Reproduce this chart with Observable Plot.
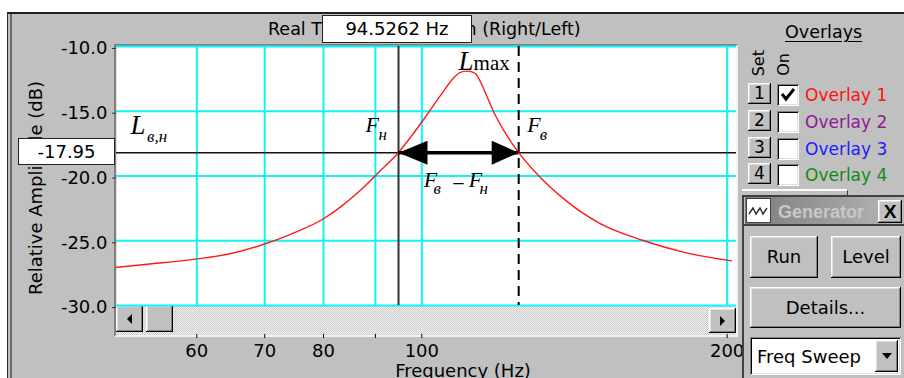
<!DOCTYPE html>
<html><head><meta charset="utf-8">
<script src="https://cdn.jsdelivr.net/npm/d3@7"></script>
<script src="https://cdn.jsdelivr.net/npm/@observablehq/plot@0.6"></script>
<style>
html,body{margin:0;padding:0;background:#fff;}
#root{position:relative;width:904px;height:378px;overflow:hidden;font-family:"DejaVu Sans",sans-serif;color:#000;}
.abs{position:absolute;box-sizing:border-box;}
.t{line-height:1;white-space:nowrap;}
.raised{background:#c0c0c0;box-shadow:inset -1px -1px #000,inset 1px 1px #fff,inset -2px -2px #808080,inset 2px 2px #dfdfdf;}
.sunken{background:#fff;box-shadow:inset 1px 1px #808080,inset -1px -1px #fff,inset 2px 2px #000,inset -2px -2px #dfdfdf;}
.center{display:flex;align-items:center;justify-content:center;}
#chart{left:0;top:0;width:904px;height:378px;}
</style></head>
<body>
<div id="root">
  <!-- window background -->
  <div class="abs" style="left:7px;top:12px;width:897px;height:366px;background:#c0c0c0;border-left:1px solid #303030;border-top:2px solid #202020;"></div>
  <div class="abs" style="left:10px;top:14px;width:2px;height:364px;background:#6a6a6a"></div>
  <!-- sunken plot frame -->
  <div class="abs" style="left:114px;top:44px;width:624px;height:293px;border-top:2px solid #808080;border-left:2px solid #808080;border-right:2px solid #f0f0f0;border-bottom:2px solid #f0f0f0;"></div>
  <!-- scrollbar -->
  <div class="abs" style="left:116px;top:305px;width:620px;height:30px;background:repeating-conic-gradient(#c8c8c8 0 25%,#f4f4f4 0 50%) 0 0/2px 2px;"></div>
  <div class="abs raised center" style="left:116px;top:305px;width:27px;height:27px;"><div style="width:0;height:0;border-top:5px solid transparent;border-bottom:5px solid transparent;border-right:5px solid #000;"></div></div>
  <div class="abs raised" style="left:146px;top:305px;width:27px;height:27px;"></div>
  <div class="abs raised center" style="left:709px;top:308px;width:27px;height:25px;"><div style="width:0;height:0;border-top:5px solid transparent;border-bottom:5px solid transparent;border-left:5px solid #000;"></div></div>

  <div id="chart" class="abs"></div>

  <!-- title -->
  <div class="abs t" style="left:268px;top:21px;font-size:17.5px;">Real T<span style="display:inline-block;width:143.5px;overflow:hidden;vertical-align:bottom;line-height:1">ime Transfer Functio</span>n (Right/Left)</div>
  <div class="abs center t" id="freqBox" style="left:322px;top:15px;width:150px;height:28px;background:#fff;border:1px solid #202020;font-size:18px;"></div>
  <div class="abs center t" id="levelBox" style="left:18px;top:138px;width:97px;height:27px;background:#fff;border:1px solid #202020;font-size:18px;"></div>

  <!-- overlays panel -->
  <div class="abs t" style="left:785px;top:24px;font-size:17.5px;text-decoration:underline;text-underline-offset:3px;">Overlays</div>
  <div class="abs t" style="left:751px;top:50px;writing-mode:vertical-rl;transform:rotate(180deg);font-size:16px;">Set</div>
  <div class="abs t" style="left:776px;top:53px;writing-mode:vertical-rl;transform:rotate(180deg);font-size:16px;">On</div>
  <div id="overlayRows"></div>

  <!-- hidden control behind generator -->
  <div class="abs" style="left:742px;top:189px;width:106px;height:8px;background:#c0c0c0;border-top:2px solid #fff;border-right:1px solid #404040;"></div>

  <!-- generator window -->
  <div class="abs" style="left:742px;top:195px;width:170px;height:190px;background:#c0c0c0;border-left:2px solid #404040;border-top:2px solid #404040;"></div>
  <div class="abs" style="left:745px;top:197px;width:160px;height:27px;background:linear-gradient(to right,#7c7c7c,#b8b8b8);"></div>
  <div class="abs" style="left:746px;top:198px;width:25px;height:25px;background:#fff;border:1px solid #404040;">
    <svg width="23" height="23" style="display:block"><polyline points="2,15 6,9 9,15 13,9 16,15 20,9" fill="none" stroke="#303030" stroke-width="1.4"/></svg>
  </div>
  <div class="abs t" style="left:778px;top:203px;font-family:'Liberation Sans',Arial,sans-serif;font-weight:bold;font-size:18px;color:#c8c8c8;">Generator</div>
  <div class="abs raised center t" style="left:878px;top:200px;width:24px;height:23px;font-family:'Liberation Sans',Arial,sans-serif;font-weight:bold;font-size:19px;">X</div>
  <div class="abs" style="left:744px;top:224px;width:160px;height:2px;background:#404040;"></div>
  <div class="abs raised center t" style="left:750px;top:236px;width:68px;height:42px;font-size:18px;">Run</div>
  <div class="abs raised center t" style="left:831px;top:236px;width:70px;height:42px;font-size:18px;">Level</div>
  <div class="abs raised center t" style="left:750px;top:287px;width:151px;height:41px;font-size:18px;">Details...</div>
  <div class="abs sunken" style="left:750px;top:337px;width:151px;height:38px;"></div>
  <div class="abs t" style="left:757px;top:348px;font-size:18px;">Freq Sweep</div>
  <div class="abs raised center" style="left:875px;top:340px;width:23px;height:32px;"><div style="width:0;height:0;border-left:5px solid transparent;border-right:5px solid transparent;border-top:6px solid #000;"></div></div>
</div>

<script>
// ---- data ----
const freqHz  = [50, 53.9, 60, 64.7, 70, 74.2, 80, 83.1, 87, 91, 94.8, 97.5, 100.5, 104.3, 107.6, 109.0, 110.7, 112.2, 113.0, 114.3, 116.0, 117.8, 120.5, 124.6, 129, 139.2, 150.1, 165.6, 181.5, 202];
const levelDb = [-27.05, -26.8, -26.4, -26.0, -25.25, -24.5, -23.3, -22.4, -21.1, -19.6, -18.2, -17.0, -15.6, -13.8, -12.4, -12.02, -11.9, -11.98, -12.1, -12.76, -13.9, -15.1, -16.5, -18.2, -19.6, -22.0, -23.7, -25.0, -25.9, -26.55];
const xTicks = [60, 70, 80, 90, 100, 200];
const xTickLabels = ["60", "70", "80", "", "100", "200"];
const yTicks = [-10, -15, -20, -25, -30];
const yTickLabels = ["-10.0", "-15.0", "-20.0", "-25.0", "-30.0"];
const xDomain = [50, 204.3];
const yDomain = [-30, -10];
const cursorLowHz = 94.85;
const cursorHighHz = 124.6;
const cursorLevelDb = -18.2;
const freqReadout = "94.5262 Hz";
const levelReadout = "-17.95";
const xLabel = "Frequency (Hz)";
const yLabel = "Relative Amplitude (dB)";
const overlayNames = ["Overlay 1", "Overlay 2", "Overlay 3", "Overlay 4"];
const overlayOn = [true, false, false, false];

// ---- styles ----
const overlayColors = ["#ff1010", "#8e1a94", "#1c1cff", "#138a13"];
const serif = "'Liberation Serif','Times New Roman',serif";

const curve = freqHz.map((f, i) => ({f, db: levelDb[i]}));
const iPeak = d3.maxIndex(levelDb);
const peakPt = [{x: freqHz[iPeak], y: levelDb[iPeak]}];
const lowPt = [{x: cursorLowHz, y: cursorLevelDb}];
const highPt = [{x: cursorHighHz, y: cursorLevelDb}];
const leftPt = [{x: xDomain[0], y: cursorLevelDb}];

const headRight = {draw(ctx, size) { const k = Math.sqrt(size / Math.PI) / 12; ctx.moveTo(0, 0); ctx.lineTo(-27 * k, -12 * k); ctx.lineTo(-27 * k, 12 * k); ctx.closePath(); }};
const headLeft = {draw(ctx, size) { const k = Math.sqrt(size / Math.PI) / 12; ctx.moveTo(0, 0); ctx.lineTo(29 * k, -12 * k); ctx.lineTo(29 * k, 12 * k); ctx.closePath(); }};

function lab(data, text, o) {
  return Plot.text(data, {x: "x", y: "y", text: () => text, textAnchor: "start", lineAnchor: "bottom", fontFamily: serif, fill: "#000", ...o});
}
const it = {fontStyle: "italic"};

const chart = Plot.plot({
  width: 904, height: 378,
  marginLeft: 116, marginRight: 168, marginTop: 46, marginBottom: 73,
  x: {type: "log", domain: xDomain},
  y: {domain: yDomain},
  style: {background: "transparent", fontFamily: "'DejaVu Sans',sans-serif", fontSize: "18px", color: "#000", overflow: "visible"},
  marks: [
    Plot.frame({fill: "#fff", stroke: "none"}),
    Plot.gridX(xTicks, {stroke: "#10f4f4", strokeOpacity: 1, strokeWidth: 2}),
    Plot.gridY(yTicks, {stroke: "#10f4f4", strokeOpacity: 1, strokeWidth: 2}),
    Plot.axisY(yTicks, {tickFormat: d => yTickLabels[yTicks.indexOf(d)], tickSize: 4, tickPadding: 5, dy: 2, label: null, stroke: "#333"}),
    Plot.axisX(xTicks, {tickFormat: d => xTickLabels[xTicks.indexOf(d)], tickSize: 4, tickPadding: 6, dy: 29, label: null}),
    Plot.text([yLabel], {text: d => d, frameAnchor: "left", rotate: -90, textAnchor: "middle", lineAnchor: "bottom", dx: -74.5, dy: 12, fontSize: 18, fill: "#000"}),
    Plot.text([xLabel], {text: d => d, frameAnchor: "bottom", textAnchor: "middle", lineAnchor: "bottom", dx: 36.5, dy: 71, fontSize: 18, fill: "#000"}),
    Plot.ruleX([cursorLowHz], {stroke: "#333", strokeWidth: 2}),
    Plot.ruleX([cursorHighHz], {stroke: "#000", strokeWidth: 2, strokeDasharray: "10,6"}),
    Plot.ruleY([cursorLevelDb], {stroke: "#111", strokeWidth: 1.5}),
    Plot.line(curve, {x: "f", y: "db", stroke: "#ff1a1a", strokeWidth: 1.4, curve: "monotone-x"}),
    Plot.ruleY([cursorLevelDb], {x1: cursorLowHz, x2: cursorHighHz, stroke: "#000", strokeWidth: 3.5}),
    Plot.dot(highPt, {x: "x", y: "y", symbol: headRight, r: 12, fill: "#000", stroke: "none"}),
    Plot.dot(lowPt, {x: "x", y: "y", symbol: headLeft, r: 12, fill: "#000", stroke: "none"}),
    // L_max
    lab(peakPt, "L", {...it, fontSize: 27, dx: -8, dy: -1.3}),
    lab(peakPt, "max", {fontSize: 21, dx: 7, dy: -1.3}),
    // L_в,н
    lab(leftPt, "L", {...it, fontSize: 27, dx: 14, dy: -19}),
    lab(leftPt, "в,н", {...it, fontSize: 17, dx: 30.5, dy: -10.5}),
    // F_н
    lab(lowPt, "F", {...it, fontSize: 22, dx: -33, dy: -20.5}),
    lab(lowPt, "н", {...it, fontSize: 17, dx: -20, dy: -12.2}),
    // F_в
    lab(highPt, "F", {...it, fontSize: 22, dx: 8.5, dy: -20.5}),
    lab(highPt, "в", {...it, fontSize: 17, dx: 21, dy: -12.7}),
    // F_в − F_н
    lab(lowPt, "F", {...it, fontSize: 22, dx: 25.3, dy: 34.5}),
    lab(lowPt, "в", {...it, fontSize: 17, dx: 35, dy: 41.8}),
    lab(lowPt, "−", {fontSize: 22, dx: 53.7, dy: 38}),
    lab(lowPt, "F", {...it, fontSize: 22, dx: 70.3, dy: 34.5}),
    lab(lowPt, "н", {...it, fontSize: 17, dx: 81, dy: 41.8})
  ]
});
document.getElementById("chart").appendChild(chart);
document.getElementById("freqBox").textContent = freqReadout;
document.getElementById("levelBox").textContent = levelReadout;

// overlay rows
const rows = document.getElementById("overlayRows");
const rowTops = [83, 110, 137, 163];
overlayNames.forEach((name, i) => {
  const top = rowTops[i];
  rows.insertAdjacentHTML("beforeend",
    `<div class="abs raised center t" style="left:748px;top:${top}px;width:23px;height:21px;font-size:17px;">${i + 1}</div>` +
    `<div class="abs sunken" style="left:777px;top:${top + 1}px;width:22px;height:22px;">` +
      (overlayOn[i] ? `<svg width="22" height="22" style="display:block"><polyline points="5,10 9,15 17,5" fill="none" stroke="#000" stroke-width="3"/></svg>` : "") +
    `</div>` +
    `<div class="abs t" style="left:805px;top:${top + 4}px;font-size:17px;color:${overlayColors[i]};">${name}</div>`);
});
</script>
</body></html>
